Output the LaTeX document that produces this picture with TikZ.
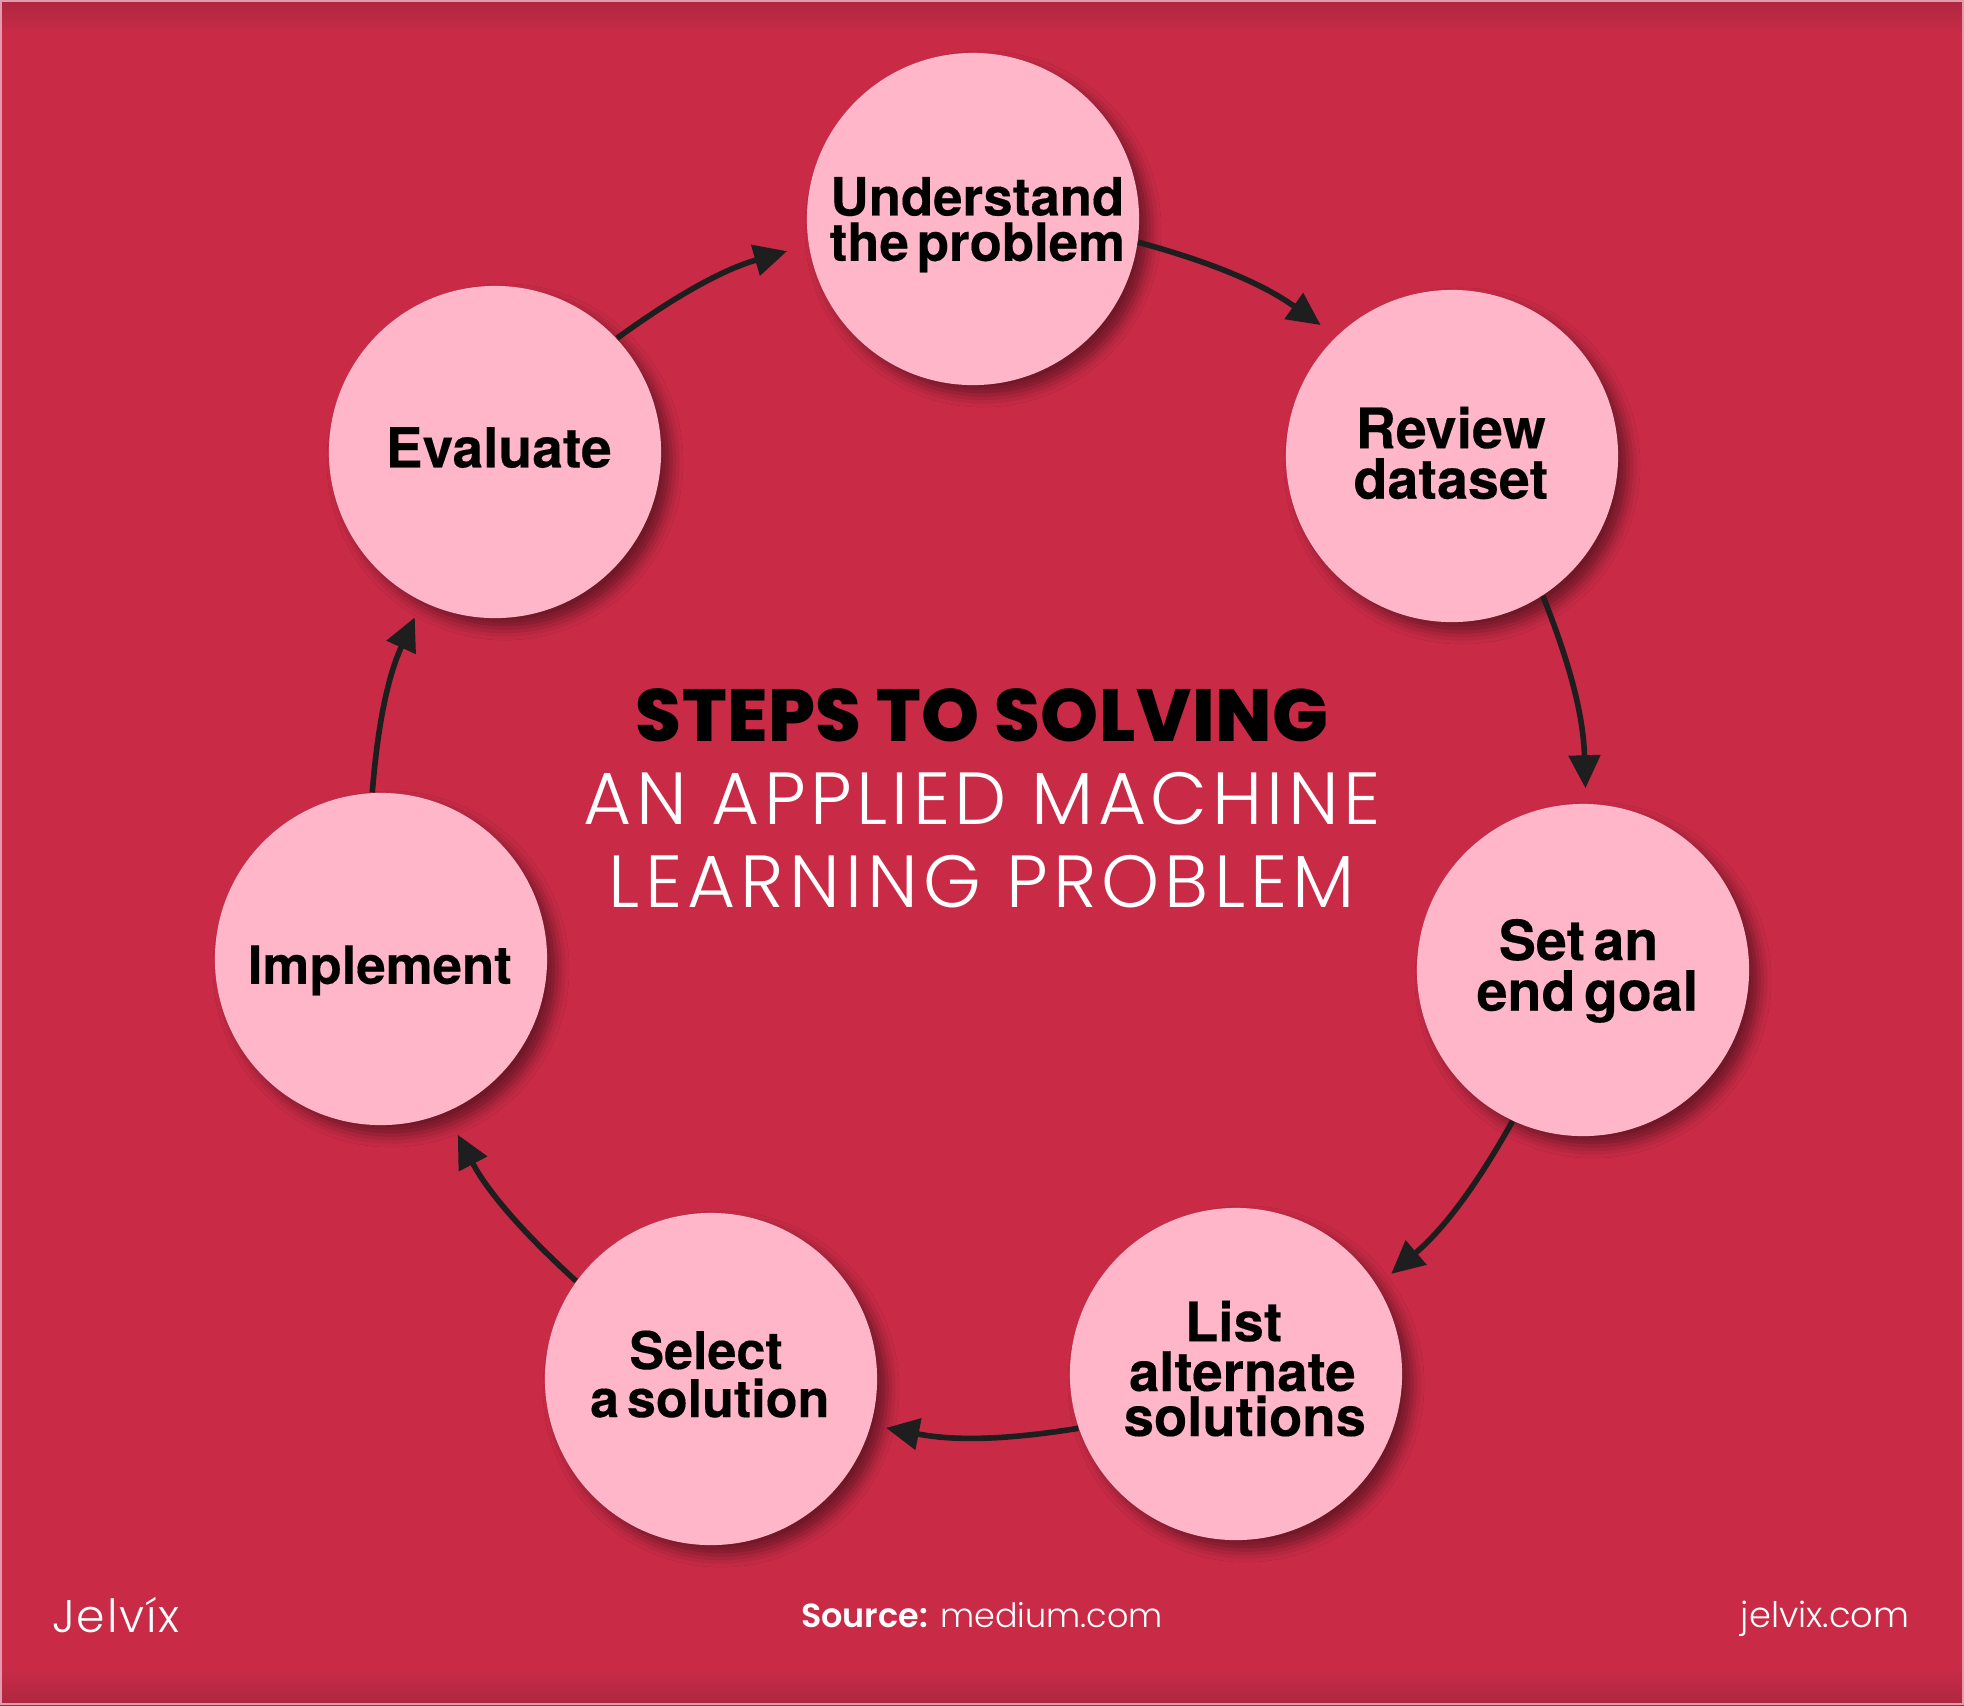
\documentclass[tikz,border=0pt]{standalone}
\usepackage{fontspec}
\setmainfont{TeX Gyre Heros}[WordSpace=0.55,BoldFeatures={FakeBold=0.25}]
\newfontfamily\titlefont{Poppins ExtraBold}[LetterSpace=0.8]
\newfontfamily\thinfont{Poppins Light}
\usepackage{tikz}
\usetikzlibrary{arrows.meta,positioning,shadows.blur}
\definecolor{crimson}{HTML}{C92B47}
\definecolor{wine}   {HTML}{AE2740}
\definecolor{edgeline}{HTML}{E49AAC}
\definecolor{blush}  {HTML}{FFB6C8}
\definecolor{ink}    {HTML}{1E1E1E}
\newcommand{\steptext}[3]{\makebox[0pt]{\hspace*{#1}\raisebox{\dimexpr#2-5.4pt\relax}[0pt][0pt]{\begin{tabular}{@{}c@{}}#3\end{tabular}}}}
\tikzset{
  stepnode/.style={circle,fill=blush,inner sep=0pt,minimum size=3.32cm,text=black,
    font=\fontsize{#1}{13.5}\selectfont\bfseries,
    blur shadow={shadow xshift=0.1cm,shadow yshift=-0.1cm,shadow blur radius=0.12cm,shadow opacity=45}},
  steparrow/.style={ink,line width=1.6pt,-{Triangle[length=0.33cm,width=0.31cm]},bend left=10},
}
\begin{document}
\begin{tikzpicture}[x=0.01cm,y=-0.01cm]
\useasboundingbox (0,0) rectangle (1964,1705);
% background with the darker bands along top and bottom
\fill[crimson] (0,0) rectangle (1964,1705);
\shade[top color=wine,bottom color=crimson] (0,0) rectangle (1964,34);
\shade[top color=crimson,bottom color=wine] (0,1668) rectangle (1964,1705);
\draw[edgeline,line width=0.6pt] (1,1) rectangle (1963,1704);
% the seven steps
\node[stepnode=15] (understand) at (973,219) {\steptext{2.5pt}{-0.2pt}{Understand\\[-2.1pt]the problem}};
\node[stepnode=15.8] (review) at (1452,456) {\steptext{-0.7pt}{0.7pt}{Review\\[-1.2pt]dataset}};
\node[stepnode=15.8] (goal) at (1583,970) {\steptext{2.5pt}{1.25pt}{\hspace*{-5pt}Set an\\[-1.2pt]end goal}};
\node[stepnode=15.5] (list) at (1236,1374) {\steptext{5pt}{1.4pt}{\hspace*{-6.4pt}List\\[-1.2pt]\hspace*{-1.4pt}alternate\\[-2.8pt]solutions}};
\node[stepnode=14.8] (select) at (711,1379) {\steptext{-0.7pt}{1.25pt}{\hspace*{-2.1pt}Select\\[-1.4pt]a solution}};
\node[stepnode=15] (implement) at (381,959) {\steptext{-0.7pt}{-1.8pt}{Implement}};
\node[stepnode=15.7] (evaluate) at (495,452) {\steptext{2.1pt}{1.1pt}{Evaluate}};
% connectors go clockwise
\draw[steparrow,shorten >=0.19cm] (understand.-8) to (review.134);
\draw[steparrow,shorten >=0.15cm] (review.-57) to (goal.89);
\draw[steparrow,shorten >=0.18cm] (goal.-115) to (list.32);
\draw[steparrow,shorten >=0.15cm] (list.-161) to (select.-16);
\draw[steparrow,shorten >=0.25cm] (select.144) to (implement.-67);
\draw[steparrow,shorten >=0.17cm] (implement.93) to (evaluate.-116);
\draw[steparrow,shorten >=0.22cm] (evaluate.43) to (understand.-171);
% title and footer
\node[align=center,text=white,font=\fontsize{21}{23.6}\selectfont\thinfont\addfontfeature{LetterSpace=6}] (title) at (982,798)
  {{\titlefont\color{black}STEPS TO SOLVING}\\AN APPLIED MACHINE\\{\addfontfeature{LetterSpace=7}LEARNING PROBLEM}};
\node[text=white,font=\fontsize{9.5}{11}\selectfont\thinfont] (source) at (982,1615) {{\fontspec{Poppins SemiBold}Source:} medium.com};
\node[text=white,font=\fontsize{10}{11}\selectfont\thinfont] (site) at (1825,1619) {jelvix.com};
\node[text=white,font=\fontsize{13}{13}\selectfont\thinfont\addfontfeature{LetterSpace=4}] (logo) at (116,1615) {Jelvíx};
\end{tikzpicture}
\end{document}
